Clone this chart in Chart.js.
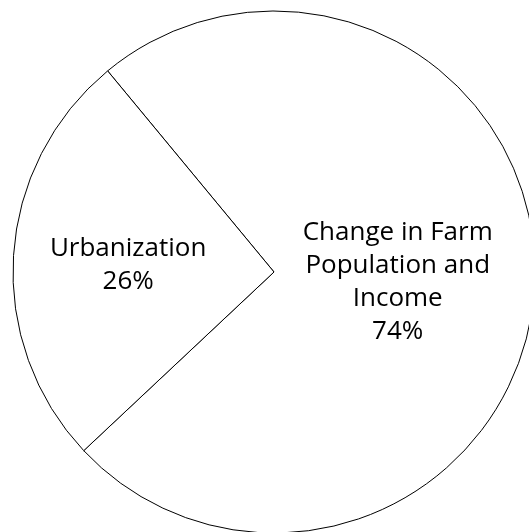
<!DOCTYPE html>
<html>
<head>
<meta charset="utf-8">
<script src="https://cdn.jsdelivr.net/npm/chart.js@4/dist/chart.umd.min.js"></script>
<style>
  html, body { margin: 0; padding: 0; background: #fff; }
  #wrap { position: absolute; left: 0; top: 0; width: 529px; height: 532px; }
</style>
</head>
<body>
<div id="wrap"><canvas id="c"></canvas></div>
<script>
// ---- data ----
const categories = ["Change in Farm Population and Income", "Urbanization"];
const labelLines = [["Change in Farm", "Population and", "Income"], ["Urbanization"]];
const values = [74, 26];

// ---- label placement (style) ----
const labelRadiusFrac = [0.475, 0.56];
const fontSize = 26;
const lineHeight = 33;

const labelPlugin = {
  id: 'sliceLabels',
  afterDatasetsDraw(chart) {
    const ctx = chart.ctx;
    const meta = chart.getDatasetMeta(0);
    const total = values.reduce((a, b) => a + b, 0);
    ctx.save();
    ctx.font = fontSize + 'px "Open Sans"';
    ctx.fillStyle = '#000';
    ctx.textAlign = 'center';
    ctx.textBaseline = 'alphabetic';
    meta.data.forEach((arc, i) => {
      const p = arc.getProps(['x', 'y', 'startAngle', 'endAngle', 'outerRadius'], true);
      const mid = (p.startAngle + p.endAngle) / 2;
      const r = p.outerRadius * labelRadiusFrac[i];
      const cx = p.x + Math.cos(mid) * r;
      const cy = p.y + Math.sin(mid) * r;
      const lines = labelLines[i].concat([Math.round(values[i] / total * 100) + '%']);
      const n = lines.length;
      lines.forEach((t, k) => {
        const ly = cy + (k - (n - 1) / 2) * lineHeight + fontSize * 0.357;
        ctx.fillText(t, cx, ly);
      });
    });
    ctx.restore();
  }
};

new Chart(document.getElementById('c'), {
  type: 'pie',
  data: {
    labels: categories,
    datasets: [{
      data: values,
      backgroundColor: '#ffffff',
      borderColor: '#000000',
      borderWidth: 1,
      hoverOffset: 0,
      radius: 261,
      clip: false
    }]
  },
  options: {
    responsive: true,
    maintainAspectRatio: false,
    animation: false,
    rotation: -39.6,
    layout: { padding: { left: 19, right: 0, top: 12, bottom: 0 } },
    plugins: {
      legend: { display: false },
      tooltip: { enabled: false }
    },
    events: []
  },
  plugins: [labelPlugin]
});
</script>
</body>
</html>
